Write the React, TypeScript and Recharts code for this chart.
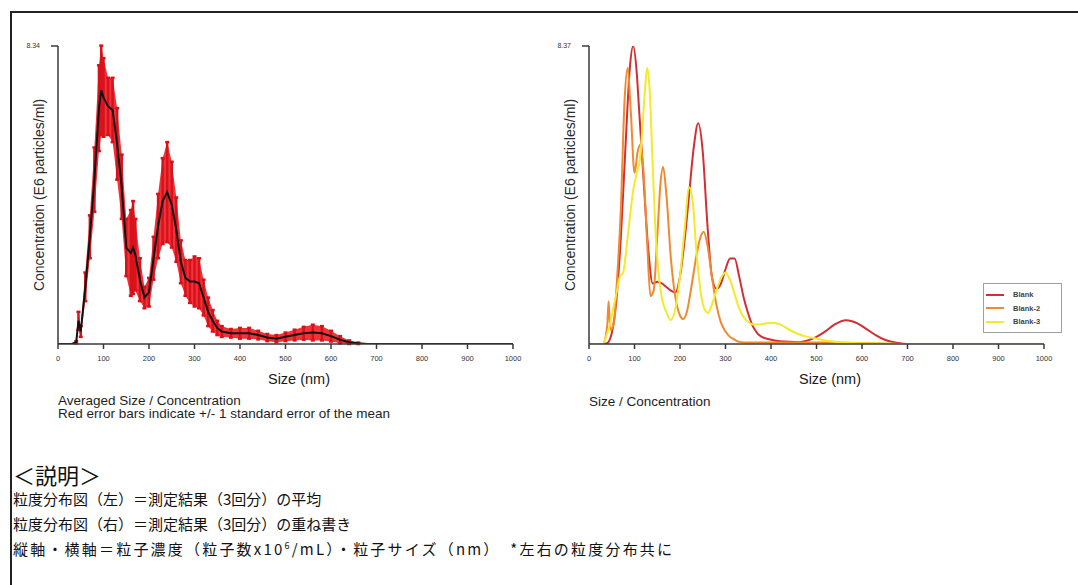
import React from 'react';
import {
  ComposedChart,
  LineChart,
  Line,
  Area,
  XAxis,
  YAxis,
  ErrorBar,
  Legend,
} from 'recharts';

const sizeTicks = [0, 100, 200, 300, 400, 500, 600, 700, 800, 900, 1000];
const leftMax = 8.34;
const rightMax = 8.37;

// averaged run: [size nm, mean conc, standard error]
const averaged: [number, number, number][] = [
  [0, 0, 0], [30, 0, 0], [40, 0.05, 0.03], [45, 0.65, 0.25], [50, 0.35, 0.15],
  [60, 1.6, 0.4], [70, 3.0, 0.6], [80, 4.6, 0.9], [90, 6.6, 1.2], [95, 7.1, 1.25],
  [100, 6.9, 1.1], [110, 6.65, 0.8], [120, 6.55, 0.9], [130, 5.6, 1.0], [140, 4.4, 0.9],
  [150, 2.7, 0.8], [160, 2.55, 1.2], [165, 2.7, 1.3], [170, 2.5, 1.0], [180, 1.8, 0.6],
  [190, 1.3, 0.3], [200, 1.45, 0.4], [210, 2.4, 0.6], [220, 3.3, 0.9], [230, 4.0, 1.2],
  [240, 4.25, 1.4], [250, 3.9, 1.2], [260, 3.2, 0.9], [270, 2.3, 0.6], [280, 1.85, 0.5],
  [290, 1.75, 0.6], [300, 1.75, 0.7], [310, 1.7, 0.7], [320, 1.3, 0.5], [330, 0.9, 0.4],
  [340, 0.65, 0.3], [350, 0.45, 0.2], [360, 0.35, 0.15], [380, 0.3, 0.12], [400, 0.3, 0.15],
  [420, 0.3, 0.15], [440, 0.25, 0.12], [460, 0.18, 0.1], [480, 0.15, 0.1], [500, 0.2, 0.12],
  [520, 0.25, 0.15], [540, 0.3, 0.18], [560, 0.32, 0.22], [580, 0.3, 0.2], [600, 0.22, 0.15],
  [620, 0.12, 0.1], [640, 0.05, 0.05], [660, 0.02, 0.02], [680, 0, 0], [1000, 0, 0],
];

// overlaid runs: [size nm, conc]
const blank: [number, number][] = [
  [0, 0], [30, 0], [40, 0.02], [45, 0.1], [50, 0.3], [60, 1.2], [70, 3.0], [80, 5.5],
  [90, 7.8], [97, 8.37], [105, 7.6], [110, 6.6], [120, 4.6], [130, 2.7], [140, 1.7],
  [150, 1.75], [160, 1.7], [170, 1.6], [180, 1.5], [190, 1.45], [200, 1.9], [210, 2.9],
  [220, 4.2], [230, 5.5], [240, 6.2], [250, 5.4], [260, 3.4], [270, 1.9], [280, 1.55],
  [290, 1.7], [300, 2.1], [310, 2.4], [320, 2.4], [330, 1.9], [340, 1.3], [350, 0.85],
  [360, 0.5], [370, 0.3], [380, 0.2], [400, 0.12], [420, 0.08], [440, 0.06], [460, 0.05],
  [480, 0.1], [500, 0.2], [520, 0.36], [540, 0.55], [565, 0.67], [590, 0.58], [610, 0.42],
  [630, 0.25], [650, 0.12], [670, 0.05], [690, 0.01], [700, 0], [1000, 0],
];

const blank2: [number, number][] = [
  [0, 0], [30, 0], [40, 0.5], [43, 1.2], [47, 0.4], [55, 0.6], [60, 1.5], [70, 3.8],
  [78, 6.8], [85, 7.75], [92, 6.5], [100, 4.8], [107, 5.4], [113, 5.6], [120, 4.8],
  [128, 2.8], [135, 1.35], [142, 1.5], [150, 3.0], [157, 4.5], [163, 4.97], [170, 4.2],
  [180, 2.4], [190, 1.3], [200, 0.8], [207, 0.7], [215, 0.9], [225, 1.6], [235, 2.4],
  [245, 3.0], [252, 3.15], [260, 2.8], [270, 1.9], [280, 1.1], [290, 0.6], [300, 0.35],
  [310, 0.2], [320, 0.12], [330, 0.06], [350, 0.04], [500, 0.04], [600, 0.03], [700, 0],
  [1000, 0],
];

const blank3: [number, number][] = [
  [0, 0], [30, 0], [40, 0.3], [45, 0.5], [50, 0.8], [60, 1.4], [68, 1.9], [75, 2.0],
  [85, 3.0], [97, 4.3], [105, 4.8], [112, 5.2], [118, 6.2], [124, 7.3], [128, 7.75],
  [133, 7.2], [140, 5.0], [146, 3.2], [152, 2.1], [160, 1.3], [170, 0.9], [179, 0.67],
  [190, 1.0], [200, 1.9], [210, 3.2], [220, 4.4], [228, 4.0], [235, 2.8], [245, 1.5],
  [255, 0.95], [262, 0.87], [270, 1.1], [280, 1.5], [290, 1.85], [300, 2.0], [310, 1.8],
  [320, 1.4], [330, 1.0], [340, 0.75], [350, 0.62], [360, 0.55], [375, 0.55], [390, 0.58],
  [406, 0.6], [420, 0.55], [440, 0.4], [460, 0.28], [480, 0.2], [500, 0.15], [520, 0.1],
  [550, 0.05], [600, 0.02], [650, 0.01], [700, 0], [1000, 0],
];

const series = [
  { name: 'Blank', color: '#d12f33', points: blank },
  { name: 'Blank-2', color: '#f08a30', points: blank2 },
  { name: 'Blank-3', color: '#f2ea2a', points: blank3 },
];

const avgData = averaged.map(([size, mean, se]) => ({
  size,
  mean,
  se,
  band: [Math.max(0, mean - se), mean + se],
}));

const font = 'Arial, "Liberation Sans", sans-serif';
const axisColor = '#3a3a3a';
const chartW = 533;
const chartH = 392;
const margin = { top: 46, right: 20, bottom: 0, left: 0 };

const yLabel = () => (
  <text
    x={39}
    y={195}
    transform="rotate(-90 39 195)"
    textAnchor="middle"
    dominantBaseline="central"
    fontSize={14}
    fill="#2a2a2a"
    fontFamily={font}
  >
    Concentration (E6 particles/ml)
  </text>
);

const xLabel = () => (
  <text x={299} y={384} textAnchor="middle" fontSize={14.5} fill="#1a1a1a" fontFamily={font}>
    Size (nm)
  </text>
);

function axes(max: number) {
  return [
    <XAxis
      key="x"
      dataKey="size"
      type="number"
      domain={[0, 1000]}
      ticks={sizeTicks}
      interval={0}
      height={48}
      allowDataOverflow
      stroke={axisColor}
      strokeWidth={1.5}
      tickSize={5}
      tickMargin={7}
      tick={{ fontSize: 7.5, fill: '#333', fontFamily: font }}
      label={xLabel}
    />,
    <YAxis
      key="y"
      type="number"
      domain={[0, max]}
      ticks={[max]}
      width={58}
      allowDataOverflow
      stroke={axisColor}
      strokeWidth={1.5}
      tickSize={7}
      tickMargin={11}
      tick={{ fontSize: 7, fill: '#333', fontFamily: font }}
      label={yLabel}
    />,
  ];
}

const renderLegend = (props: any) => (
  <div
    style={{
      border: '1px solid #a0a0a0',
      width: 79,
      height: 50,
      boxSizing: 'border-box',
      paddingTop: 4,
      background: '#fff',
      fontFamily: font,
    }}
  >
    {(props.payload || []).map((p: any) => (
      <div key={p.value} style={{ display: 'flex', alignItems: 'center', height: 13.5 }}>
        <span
          style={{
            display: 'inline-block',
            width: 18,
            borderTop: `2px solid ${p.color}`,
            marginLeft: 2,
            marginRight: 9,
          }}
        />
        <span style={{ fontSize: 7.5, fontWeight: 700, color: '#444' }}>{p.value}</span>
      </div>
    ))}
  </div>
);

const caption: React.CSSProperties = {
  position: 'absolute',
  fontFamily: font,
  fontSize: 13.5,
  lineHeight: '13px',
  color: '#1e1e1e',
  whiteSpace: 'nowrap',
};

const jp: React.CSSProperties = {
  position: 'absolute',
  left: 13,
  fontFamily: '"Noto Sans CJK JP", sans-serif',
  fontSize: 15,
  lineHeight: 1,
  color: '#111',
  whiteSpace: 'nowrap',
};

export default function App() {
  return (
    <div
      style={{
        position: 'fixed',
        left: 0,
        top: 0,
        width: 1078,
        height: 585,
        background: '#fff',
        overflow: 'hidden',
      }}
    >
      <div
        style={{
          position: 'absolute',
          left: 10,
          top: 11,
          right: -4,
          bottom: -4,
          borderTop: '2px solid #222',
          borderLeft: '2px solid #222',
        }}
      />

      <div style={{ position: 'absolute', left: 0, top: 0 }}>
        <ComposedChart width={chartW} height={chartH} data={avgData} margin={margin}>
          {axes(leftMax)}
          <Area
            dataKey="band"
            type="linear"
            stroke="none"
            fill="#ee1d25"
            fillOpacity={0.9}
            isAnimationActive={false}
          />
          <Line
            dataKey="mean"
            type="linear"
            stroke="none"
            dot={false}
            activeDot={false}
            isAnimationActive={false}
          >
            <ErrorBar dataKey="se" direction="y" width={2} stroke="#d8121a" strokeWidth={2.5} />
          </Line>
          <Line
            dataKey="mean"
            type="linear"
            stroke="#111"
            strokeWidth={2}
            dot={false}
            activeDot={false}
            isAnimationActive={false}
          />
        </ComposedChart>
      </div>

      <div style={{ position: 'absolute', left: 531, top: 0 }}>
        <LineChart width={chartW} height={chartH} margin={margin}>
          {axes(rightMax)}
          {series.map((s) => (
            <Line
              key={s.name}
              name={s.name}
              data={s.points.map(([size, conc]) => ({ size, conc }))}
              dataKey="conc"
              type="monotone"
              stroke={s.color}
              strokeWidth={2}
              dot={false}
              activeDot={false}
              isAnimationActive={false}
            />
          ))}
          <Legend
            layout="vertical"
            align="center"
            verticalAlign="middle"
            content={renderLegend}
            wrapperStyle={{ left: 452, top: 283, width: 79, height: 50 }}
          />
        </LineChart>
      </div>

      <div style={{ ...caption, left: 58, top: 393.5 }}>
        Averaged Size / Concentration
        <br />
        Red error bars indicate +/- 1 standard error of the mean
      </div>
      <div style={{ ...caption, left: 589, top: 395 }}>Size / Concentration</div>

      <div style={{ ...jp, top: 463, fontSize: 22 }}>＜説明＞</div>
      <div style={{ ...jp, top: 491 }}>粒度分布図（左）＝測定結果（3回分）の平均</div>
      <div style={{ ...jp, top: 516 }}>粒度分布図（右）＝測定結果（3回分）の重ね書き</div>
      <div style={{ ...jp, top: 541, letterSpacing: 2.2 }}>
        縦軸・横軸＝粒子濃度（粒子数x10<sup style={{ fontSize: 9, verticalAlign: 'top', lineHeight: 1 }}>6</sup>/mL）・粒子サイズ（nm）　*左右の粒度分布共に
      </div>
    </div>
  );
}
